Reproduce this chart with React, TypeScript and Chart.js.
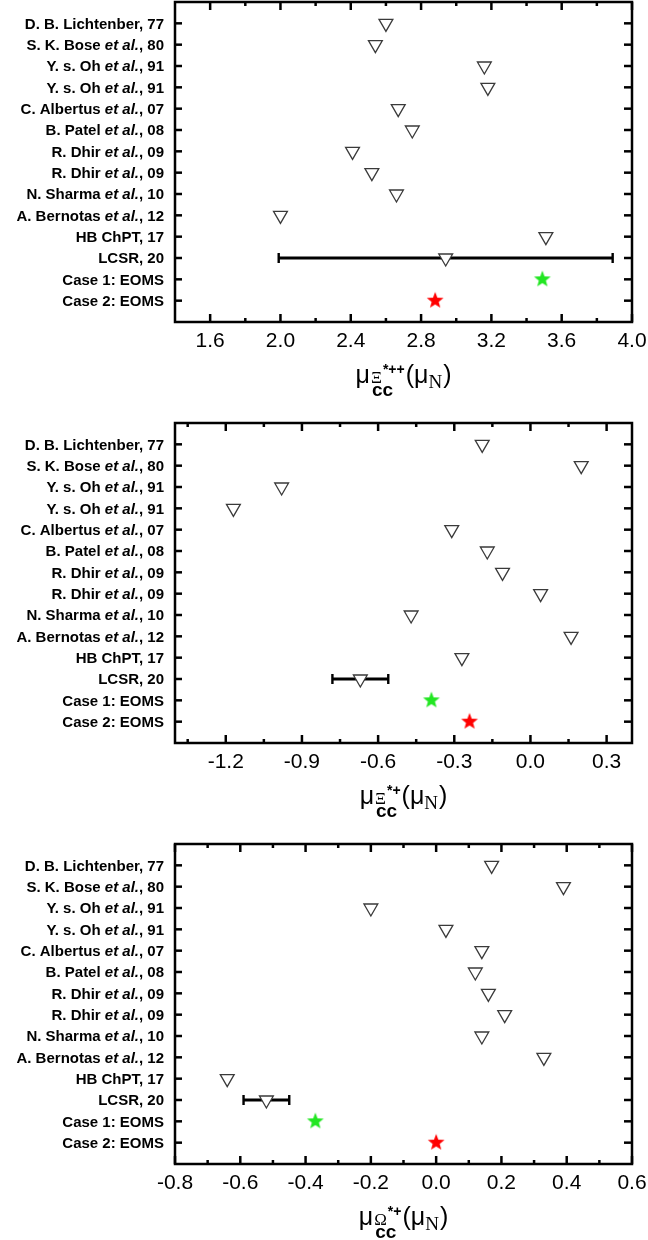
import React, { useEffect, useRef } from "react";
import { Chart, registerables } from "chart.js";
Chart.register(...registerables);

// ---------- data ----------
const categories = [
  "D. B. Lichtenber, 77",
  "S. K. Bose et al., 80",
  "Y. s. Oh et al., 91",
  "Y. s. Oh et al., 91",
  "C. Albertus et al., 07",
  "B. Patel et al., 08",
  "R. Dhir et al., 09",
  "R. Dhir et al., 09",
  "N. Sharma et al., 10",
  "A. Bernotas et al., 12",
  "HB ChPT, 17",
  "LCSR, 20",
  "Case 1: EOMS",
  "Case 2: EOMS",
];

// Panel 1: mu(Xi_cc*++)
const xiPPOthers = [2.6, 2.54, 3.16, 3.18, 2.67, 2.75, 2.41, 2.52, 2.66, 2.0, 3.51, 2.94];
const xiPPCase1 = 3.49;
const xiPPCase2 = 2.88;
const xiPPLcsrErr = [1.99, 3.89];
const xiPPMajorTicks = [1.6, 2.0, 2.4, 2.8, 3.2, 3.6, 4.0];
const xiPPMinorTicks = [1.8, 2.2, 2.6, 3.0, 3.4, 3.8];
const xiPPRange = [1.4, 4.0];

// Panel 2: mu(Xi_cc*+)
const xiPOthers = [-0.19, 0.2, -0.98, -1.17, -0.31, -0.17, -0.11, 0.04, -0.47, 0.16, -0.27, -0.67];
const xiPCase1 = -0.39;
const xiPCase2 = -0.24;
const xiPLcsrErr = [-0.78, -0.56];
const xiPMajorTicks = [-1.2, -0.9, -0.6, -0.3, 0.0, 0.3];
const xiPMinorTicks = [-1.35, -1.05, -0.75, -0.45, -0.15, 0.15];
const xiPRange = [-1.4, 0.4];

// Panel 3: mu(Omega_cc*+)
const omOthers = [0.17, 0.39, -0.2, 0.03, 0.14, 0.12, 0.16, 0.21, 0.14, 0.33, -0.64, -0.52];
const omCase1 = -0.37;
const omCase2 = 0.0;
const omLcsrErr = [-0.59, -0.45];
const omMajorTicks = [-0.8, -0.6, -0.4, -0.2, 0.0, 0.2, 0.4, 0.6];
const omMinorTicks = [-0.7, -0.5, -0.3, -0.1, 0.1, 0.3, 0.5];
const omRange = [-0.8, 0.6];

// ---------- helpers ----------
const SANS = "'Liberation Sans', Arial, sans-serif";
const SERIF = "'Liberation Serif', 'Times New Roman', serif";

function makeStar(color: string): HTMLCanvasElement {
  const c = document.createElement("canvas");
  c.width = 22;
  c.height = 22;
  const g = c.getContext("2d")!;
  const R = 8.8;
  const r = 3.7;
  const cx = 11;
  const cy = 11;
  g.beginPath();
  for (let k = 0; k < 10; k++) {
    const rad = k % 2 === 0 ? R : r;
    const a = -Math.PI / 2 + (k * Math.PI) / 5;
    const px = cx + rad * Math.cos(a);
    const py = cy + rad * Math.sin(a);
    if (k === 0) g.moveTo(px, py);
    else g.lineTo(px, py);
  }
  g.closePath();
  g.fillStyle = color;
  g.fill();
  return c;
}

type PanelCfg = {
  others: number[];
  case1: number;
  case2: number;
  err: number[];
  major: number[];
  minor: number[];
  range: number[];
  sym: string;
  sup: string;
  height: number;
  top: number;
};

const FRAME_BOTTOM = 322;

function drawLabel(ctx: CanvasRenderingContext2D, text: string, xRight: number, y: number) {
  const idx = text.indexOf("et al.");
  const parts: { t: string; f: string }[] = [];
  const normal = `bold 15px ${SANS}`;
  const italic = `italic bold 15px ${SANS}`;
  if (idx >= 0) {
    parts.push({ t: text.slice(0, idx), f: normal });
    parts.push({ t: "et al.", f: italic });
    parts.push({ t: text.slice(idx + 6), f: normal });
  } else {
    parts.push({ t: text, f: normal });
  }
  let total = 0;
  const widths = parts.map((p) => {
    ctx.font = p.f;
    const w = ctx.measureText(p.t).width;
    total += w;
    return w;
  });
  let x = xRight - total;
  ctx.fillStyle = "#000";
  ctx.textAlign = "left";
  ctx.textBaseline = "alphabetic";
  parts.forEach((p, i) => {
    ctx.font = p.f;
    ctx.fillText(p.t, x, y + 5.4);
    x += widths[i];
  });
}

function drawTitle(ctx: CanvasRenderingContext2D, cx: number, base: number, sym: string, sup: string) {
  const fMain = `25px ${SANS}`;
  const fSym = `17px ${SERIF}`;
  const fSup = `bold 14px ${SANS}`;
  const fCc = `bold 19px ${SANS}`;
  const fN = `19px ${SERIF}`;
  const m = (f: string, t: string) => {
    ctx.font = f;
    return ctx.measureText(t).width;
  };
  const muW = m(fMain, "μ");
  const symW = m(fSym, sym);
  const supW = m(fSup, sup);
  const ccW = m(fCc, "cc");
  const groupW = Math.max(symW + supW + 1, ccW + 2);
  const openW = m(fMain, "(μ");
  const nW = m(fN, "N");
  const closeW = m(fMain, ")");
  const total = muW + 1 + groupW + 1 + openW + nW + 1 + closeW;
  let x = cx - total / 2;
  ctx.fillStyle = "#000";
  ctx.textAlign = "left";
  ctx.textBaseline = "alphabetic";
  ctx.font = fMain;
  ctx.fillText("μ", x, base);
  x += muW + 1;
  ctx.font = fSym;
  ctx.fillText(sym, x, base);
  ctx.font = fSup;
  ctx.fillText(sup, x + symW + 1, base - 9);
  ctx.font = fCc;
  ctx.fillText("cc", x + 1, base + 13);
  x += groupW + 1;
  ctx.font = fMain;
  ctx.fillText("(μ", x, base);
  x += openW;
  ctx.font = fN;
  ctx.fillText("N", x, base + 5);
  x += nW + 1;
  ctx.font = fMain;
  ctx.fillText(")", x, base);
}

function Panel({ cfg }: { cfg: PanelCfg }) {
  const ref = useRef<HTMLCanvasElement>(null);
  useEffect(() => {
    const canvas = ref.current!;
    const green = makeStar("#22e622");
    const red = makeStar("#ff0000");
    const decor = {
      id: "decor",
      beforeDatasetsDraw(chart: any) {
        const ctx = chart.ctx as CanvasRenderingContext2D;
        const xs = chart.scales.x;
        const ys = chart.scales.y;
        const y = ys.getPixelForValue(12);
        const x1 = xs.getPixelForValue(cfg.err[0]);
        const x2 = xs.getPixelForValue(cfg.err[1]);
        ctx.save();
        ctx.strokeStyle = "#000";
        ctx.lineWidth = 2.8;
        ctx.beginPath();
        ctx.moveTo(x1, y);
        ctx.lineTo(x2, y);
        ctx.stroke();
        ctx.lineWidth = 2.4;
        ctx.beginPath();
        ctx.moveTo(x1, y - 5);
        ctx.lineTo(x1, y + 5);
        ctx.moveTo(x2, y - 5);
        ctx.lineTo(x2, y + 5);
        ctx.stroke();
        ctx.restore();
      },
      afterDraw(chart: any) {
        const ctx = chart.ctx as CanvasRenderingContext2D;
        const { left, right, top, bottom } = chart.chartArea;
        const xs = chart.scales.x;
        const ys = chart.scales.y;
        ctx.save();
        ctx.strokeStyle = "#000";
        ctx.lineWidth = 2.5;
        const line = (a: number, b: number, c: number, d: number) => {
          ctx.beginPath();
          ctx.moveTo(a, b);
          ctx.lineTo(c, d);
          ctx.stroke();
        };
        cfg.major.forEach((v) => {
          const x = xs.getPixelForValue(v);
          line(x, bottom, x, bottom - 8);
          line(x, top, x, top + 8);
        });
        cfg.minor.forEach((v) => {
          const x = xs.getPixelForValue(v);
          line(x, bottom, x, bottom - 4);
          line(x, top, x, top + 4);
        });
        categories.forEach((_, i) => {
          const y = ys.getPixelForValue(i + 1);
          line(left, y, left + 7, y);
          line(right, y, right - 8, y);
        });
        ctx.strokeRect(left, top, right - left, bottom - top);
        categories.forEach((c, i) => {
          drawLabel(ctx, c, left - 11, ys.getPixelForValue(i + 1));
        });
        drawTitle(ctx, (left + right) / 2, bottom + 61, cfg.sym, cfg.sup);
        ctx.restore();
      },
    };
    const chart = new Chart(canvas, {
      type: "scatter",
      data: {
        datasets: [
          {
            data: cfg.others.map((v, i) => ({ x: v, y: i + 1 })),
            pointStyle: "triangle",
            rotation: 180,
            pointRadius: 8,
            backgroundColor: "#ffffff",
            borderColor: "#3a3a3a",
            borderWidth: 1.3,
          },
          {
            data: [{ x: cfg.case1, y: 13 }],
            pointStyle: green as any,
            pointRadius: 9,
          },
          {
            data: [{ x: cfg.case2, y: 14 }],
            pointStyle: red as any,
            pointRadius: 9,
          },
        ],
      },
      options: {
        animation: false,
        responsive: false,
        maintainAspectRatio: false,
        layout: { autoPadding: false, padding: { left: 175, right: 16, top: 2, bottom: 0 } },
        plugins: { legend: { display: false }, tooltip: { enabled: false } },
        scales: {
          x: {
            type: "linear",
            position: "bottom",
            min: cfg.range[0],
            max: cfg.range[1],
            grid: { display: false, drawTicks: false },
            border: { display: false },
            ticks: {
              autoSkip: false,
              maxRotation: 0,
              color: "#000",
              padding: 7,
              font: { family: SANS, size: 21 },
              callback: (v: any) => Number(v).toFixed(1),
            },
            afterBuildTicks: (s: any) => {
              s.ticks = cfg.major.map((v) => ({ value: v }));
            },
            afterFit: (s: any) => {
              s.height = cfg.height - FRAME_BOTTOM;
              s.paddingLeft = 0;
              s.paddingRight = 0;
              s.paddingTop = 0;
              s.paddingBottom = 0;
            },
          },
          y: { type: "linear", min: 0, max: 15, reverse: true, display: false },
        },
      },
      plugins: [decor],
    } as any);
    return () => chart.destroy();
  }, [cfg]);
  return (
    <canvas
      ref={ref}
      width={648}
      height={cfg.height}
      style={{ position: "absolute", left: 0, top: cfg.top, width: 648, height: cfg.height, display: "block" }}
    />
  );
}

const panels: PanelCfg[] = [
  {
    others: xiPPOthers, case1: xiPPCase1, case2: xiPPCase2, err: xiPPLcsrErr,
    major: xiPPMajorTicks, minor: xiPPMinorTicks, range: xiPPRange,
    sym: "Ξ", sup: "*++", height: 421, top: 0,
  },
  {
    others: xiPOthers, case1: xiPCase1, case2: xiPCase2, err: xiPLcsrErr,
    major: xiPMajorTicks, minor: xiPMinorTicks, range: xiPRange,
    sym: "Ξ", sup: "*+", height: 421, top: 421,
  },
  {
    others: omOthers, case1: omCase1, case2: omCase2, err: omLcsrErr,
    major: omMajorTicks, minor: omMinorTicks, range: omRange,
    sym: "Ω", sup: "*+", height: 398, top: 842,
  },
];

export default function App() {
  return (
    <div style={{ position: "absolute", left: 0, top: 0, width: 648, height: 1240, background: "#fff" }}>
      {panels.map((p, i) => (
        <Panel key={i} cfg={p} />
      ))}
    </div>
  );
}
